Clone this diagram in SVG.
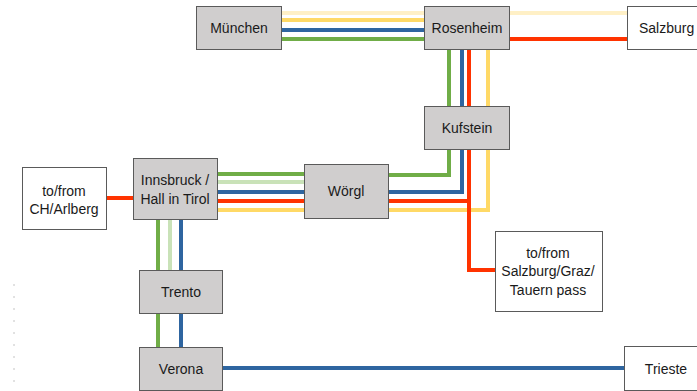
<svg xmlns="http://www.w3.org/2000/svg" width="697" height="391" viewBox="0 0 697 391">
<style>
.ln{fill:none;stroke-width:4;stroke-linejoin:miter}
.g{stroke:#70AD47}.lg{stroke:#C9E2B8}.b{stroke:#2E65A0}.r{stroke:#FF3300}.y{stroke:#FFD966}.ly{stroke:#FFF0C6}
.box{fill:#D0CECE;stroke:#5A5A5A;stroke-width:1}
.wbox{fill:#FFFFFF;stroke:#5A5A5A;stroke-width:1}
text{font-family:"Liberation Sans",Arial,sans-serif;font-size:14px;fill:#1a1a1a;text-anchor:middle}
</style>
<line x1="14" y1="284" x2="14" y2="390" stroke="#c4c4c4" stroke-width="1" stroke-dasharray="2,10"/>
<g id="connectors">
<polyline class="ln ly" points="282,13 627,13"/>
<polyline class="ln y" points="282,20 430,20"/>
<polyline class="ln b" points="282,30 430,30"/>
<polyline class="ln g" points="282,39 430,39"/>
<polyline class="ln r" points="509,39 627,39"/>
<polyline class="ln y" points="488,49 488,210 217,210"/>
<polyline class="ln b" points="462,49 462,192 217,192"/>
<polyline class="ln g" points="449,49 449,175 388,175"/>
<polyline class="ln g" points="304,174 217,174"/>
<polyline class="ln lg" points="217,182 304,182"/>
<polyline class="ln r" points="469,49 469,201 217,201"/>
<polyline class="ln r" points="469,201 469,270 495,270"/>
<polyline class="ln r" points="106,198 133,198"/>
<polyline class="ln g" points="158,219 158,347"/>
<polyline class="ln lg" points="170,219 170,270"/>
<polyline class="ln b" points="181,219 181,347"/>
<polyline class="ln b" points="222,368 624,368"/>
</g>
<g id="muenchen"><rect class="box" x="196.5" y="6.5" width="85" height="43"/><text x="239" y="33">München</text></g>
<g id="rosenheim"><rect class="box" x="424.5" y="6.5" width="85" height="43"/><text x="467" y="33">Rosenheim</text></g>
<g id="salzburg"><rect class="wbox" x="627.5" y="6.5" width="90" height="43"/><text x="639" y="33" style="text-anchor:start">Salzburg</text></g>
<g id="kufstein"><rect class="box" x="424.5" y="106.5" width="85" height="43"/><text x="467" y="133">Kufstein</text></g>
<g id="innsbruck"><rect class="box" x="133.5" y="158.5" width="84" height="61"/><text x="175" y="185">Innsbruck /</text><text x="175" y="204">Hall in Tirol</text></g>
<g id="woergl"><rect class="box" x="304.5" y="164.5" width="84" height="54"/><text x="346" y="196">Wörgl</text></g>
<g id="arlberg"><rect class="wbox" x="22.5" y="167.5" width="84" height="62"/><text x="64" y="196">to/from</text><text x="64" y="214">CH/Arlberg</text></g>
<g id="tauern"><rect class="wbox" x="495.5" y="231.5" width="107" height="80"/><text x="548" y="258">to/from</text><text x="548" y="276">Salzburg/Graz/</text><text x="548" y="295">Tauern pass</text></g>
<g id="trento"><rect class="box" x="139.5" y="270.5" width="83" height="43"/><text x="181" y="297">Trento</text></g>
<g id="verona"><rect class="box" x="139.5" y="347.5" width="83" height="43"/><text x="181" y="374">Verona</text></g>
<g id="trieste"><rect class="wbox" x="624.5" y="346.5" width="90" height="44"/><text x="666" y="374">Trieste</text></g>
</svg>
